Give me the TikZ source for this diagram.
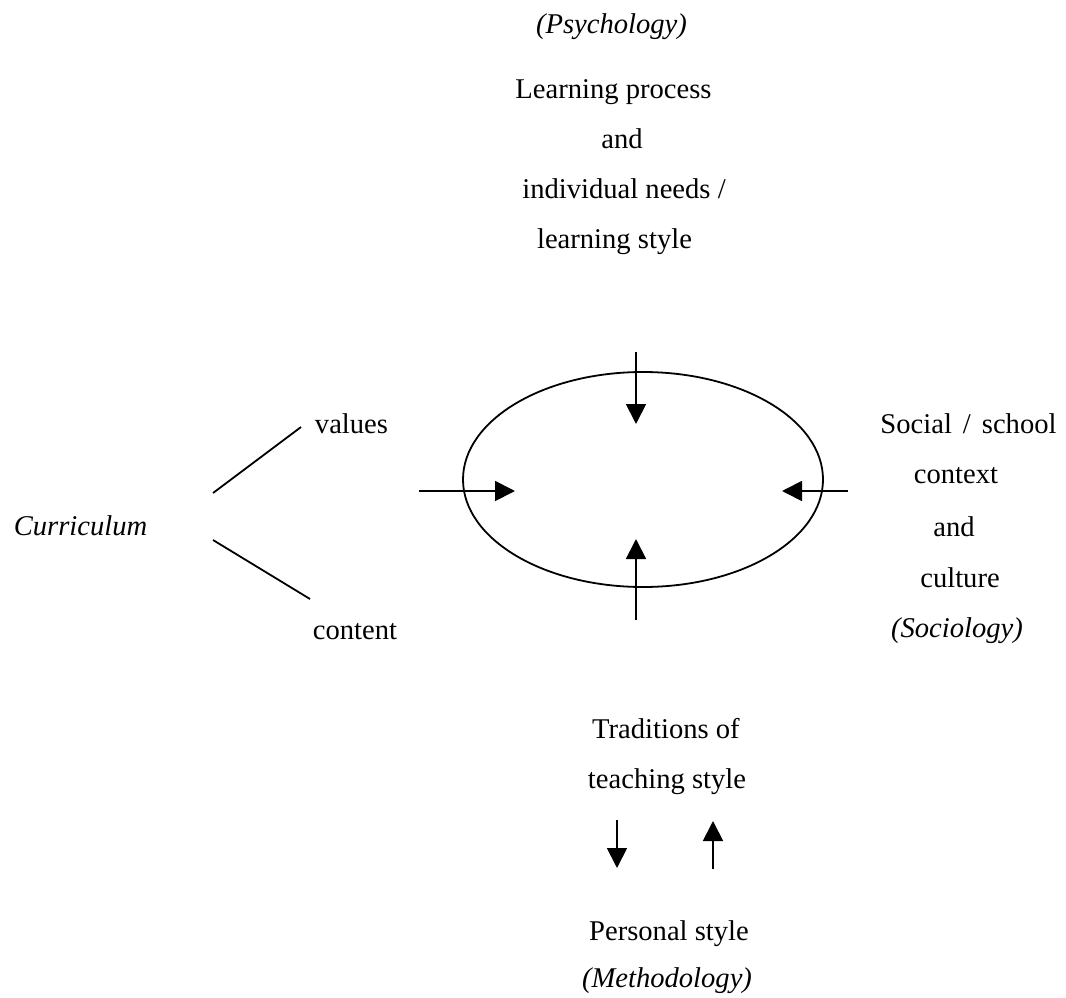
\documentclass[tikz,border=0pt]{standalone}
\usepackage{fontspec}
\setmainfont{Liberation Serif}
\usetikzlibrary{arrows.meta}
\begin{document}
\begin{tikzpicture}[x=1pt,y=-1pt,
  lbl/.style={anchor=base, inner sep=0pt, font=\fontsize{28.6}{34}\selectfont},
  conn/.style={line width=1.8pt},
  arr/.style={line width=1.8pt, -{Triangle[length=20pt,width=20pt]}}]
\useasboundingbox (0,0) rectangle (1066,998);
% top group
\node[lbl] (psy) at (611.5,34) {\textit{(Psychology)}};
\node[lbl] (lp) at (613.5,99) {Learning process};
\node[lbl] (and1) at (622,148.5) {and};
\node[lbl] (ind) at (624,198) {individual needs /};
\node[lbl] (ls) at (614.5,248) {learning style};
% left group
\node[lbl] (cur) at (80.5,535) {\textit{Curriculum}};
\node[lbl] (val) at (351.5,433) {values};
\node[lbl] (con) at (355,639) {content};
% right group
\node[lbl] (soc) at (968.5,433) {Social\hspace{11pt}/\hspace{11pt}school};
\node[lbl] (ctx) at (956,483) {context};
\node[lbl] (and2) at (954,536) {and};
\node[lbl] (cul) at (960,587) {culture};
\node[lbl] (socio) at (957,637) {\textit{(Sociology)}};
% bottom group
\node[lbl] (trad) at (666,738) {Traditions of};
\node[lbl] (teach) at (667,788) {teaching style};
\node[lbl] (pers) at (669,940) {Personal style};
\node[lbl] (meth) at (667,987) {\textit{(Methodology)}};
% ellipse
\draw[conn] (643,479.5) ellipse [x radius=180, y radius=107.5];
% coordinates for connectors
\coordinate (vA) at (213,493);
\coordinate (vB) at (301,427);
\coordinate (cA) at (213,540);
\coordinate (cB) at (310,599);
\coordinate (tS) at (636,352);
\coordinate (tE) at (636,424);
\coordinate (bS) at (636,620);
\coordinate (bE) at (636,539);
\coordinate (lS) at (419,491);
\coordinate (lE) at (515,491);
\coordinate (rS) at (848,491);
\coordinate (rE) at (782,491);
\coordinate (dS) at (617,820);
\coordinate (dE) at (617,868);
\coordinate (uS) at (713,869);
\coordinate (uE) at (713,821);
\draw[conn] (vA) -- (vB);
\draw[conn] (cA) -- (cB);
\draw[arr] (tS) -- (tE);
\draw[arr] (bS) -- (bE);
\draw[arr] (lS) -- (lE);
\draw[arr] (rS) -- (rE);
\draw[arr] (dS) -- (dE);
\draw[arr] (uS) -- (uE);
\end{tikzpicture}
\end{document}
